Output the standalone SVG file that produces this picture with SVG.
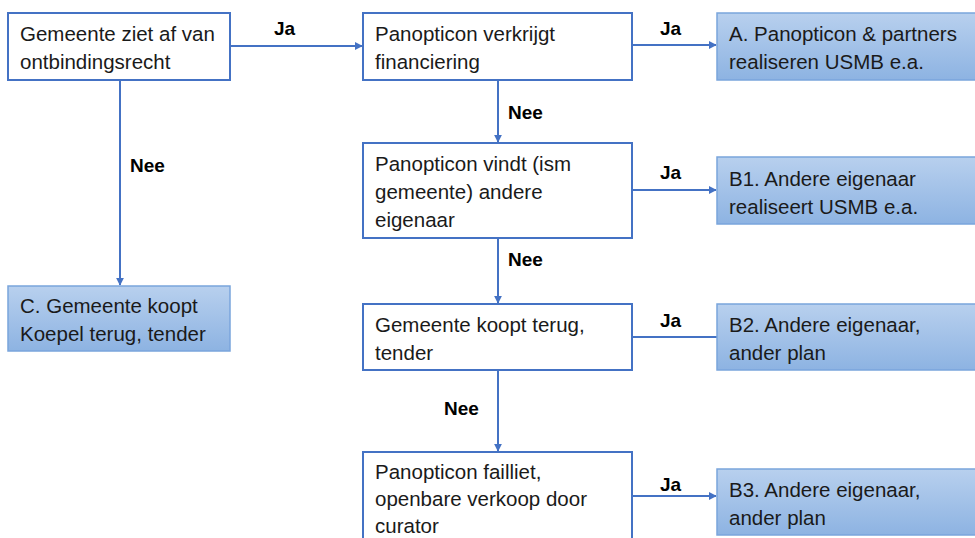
<svg xmlns="http://www.w3.org/2000/svg" width="975" height="538" viewBox="0 0 975 538">
<defs>
<linearGradient id="g" x1="0" y1="0" x2="0" y2="1">
<stop offset="0" stop-color="#b8d0ee"/>
<stop offset="1" stop-color="#8db3e2"/>
</linearGradient>
<marker id="ah" viewBox="0 0 10 10" refX="9" refY="5" markerWidth="4" markerHeight="4" orient="auto">
<path d="M0,0 L10,5 L0,10 z" fill="#4472c4"/>
</marker>
</defs>
<style>
.w{fill:#ffffff;stroke:#4472c4;stroke-width:2}
.b{fill:url(#g);stroke:#7aa5dc;stroke-width:1.5}
.t{font-family:"Liberation Sans",Arial,sans-serif;font-size:20.5px;fill:#1a1a1a}
.l{font-family:"Liberation Sans",Arial,sans-serif;font-size:19px;font-weight:bold;fill:#000}
.c{stroke:#4472c4;stroke-width:2;fill:none}
.a{marker-end:url(#ah)}
</style>
<rect width="975" height="538" fill="#ffffff"/>
<g id="connectors">
<line class="c a" x1="230" y1="46" x2="362" y2="46"/>
<line class="c a" x1="120" y1="80" x2="120" y2="285"/>
<line class="c a" x1="632" y1="45" x2="716" y2="45"/>
<line class="c a" x1="498" y1="80" x2="498" y2="142"/>
<line class="c a" x1="632" y1="190" x2="716" y2="190"/>
<line class="c a" x1="498" y1="238" x2="498" y2="303"/>
<line class="c" x1="632" y1="337" x2="717" y2="337"/>
<line class="c a" x1="498" y1="370" x2="498" y2="451"/>
<line class="c a" x1="632" y1="496" x2="716" y2="496"/>
<text class="l" x="274" y="35">Ja</text>
<text class="l" x="130" y="172">Nee</text>
<text class="l" x="660" y="35">Ja</text>
<text class="l" x="508" y="119">Nee</text>
<text class="l" x="660" y="179">Ja</text>
<text class="l" x="508" y="266">Nee</text>
<text class="l" x="660" y="327">Ja</text>
<text class="l" x="444" y="415">Nee</text>
<text class="l" x="660" y="491">Ja</text>
</g>
<g id="n1"><rect class="w" x="8" y="13" width="222" height="67"/>
<text class="t" x="20" y="41">Gemeente ziet af van</text><text class="t" x="20" y="69">ontbindingsrecht</text></g>
<g id="n2"><rect class="w" x="363" y="13" width="269" height="67"/>
<text class="t" x="375" y="41">Panopticon verkrijgt</text><text class="t" x="375" y="69">financiering</text></g>
<g id="nA"><rect class="b" x="717" y="13" width="262" height="67"/>
<text class="t" x="729" y="41">A. Panopticon &amp; partners</text><text class="t" x="729" y="69">realiseren USMB e.a.</text></g>
<g id="n3"><rect class="w" x="363" y="143" width="269" height="95"/>
<text class="t" x="375" y="171">Panopticon vindt (ism</text><text class="t" x="375" y="199">gemeente) andere</text><text class="t" x="375" y="227">eigenaar</text></g>
<g id="nB1"><rect class="b" x="717" y="157" width="262" height="67"/>
<text class="t" x="729" y="186">B1. Andere eigenaar</text><text class="t" x="729" y="214">realiseert USMB e.a.</text></g>
<g id="nC"><rect class="b" x="8" y="286" width="222" height="65"/>
<text class="t" x="20" y="313">C. Gemeente koopt</text><text class="t" x="20" y="341">Koepel terug, tender</text></g>
<g id="n4"><rect class="w" x="363" y="304" width="269" height="66"/>
<text class="t" x="375" y="332">Gemeente koopt terug,</text><text class="t" x="375" y="360">tender</text></g>
<g id="nB2"><rect class="b" x="717" y="304" width="262" height="66"/>
<text class="t" x="729" y="332">B2. Andere eigenaar,</text><text class="t" x="729" y="360">ander plan</text></g>
<g id="n5"><rect class="w" x="363" y="452" width="269" height="95"/>
<text class="t" x="375" y="479">Panopticon failliet,</text><text class="t" x="375" y="506">openbare verkoop door</text><text class="t" x="375" y="533">curator</text></g>
<g id="nB3"><rect class="b" x="717" y="469" width="262" height="66"/>
<text class="t" x="729" y="497">B3. Andere eigenaar,</text><text class="t" x="729" y="525">ander plan</text></g>
</svg>
